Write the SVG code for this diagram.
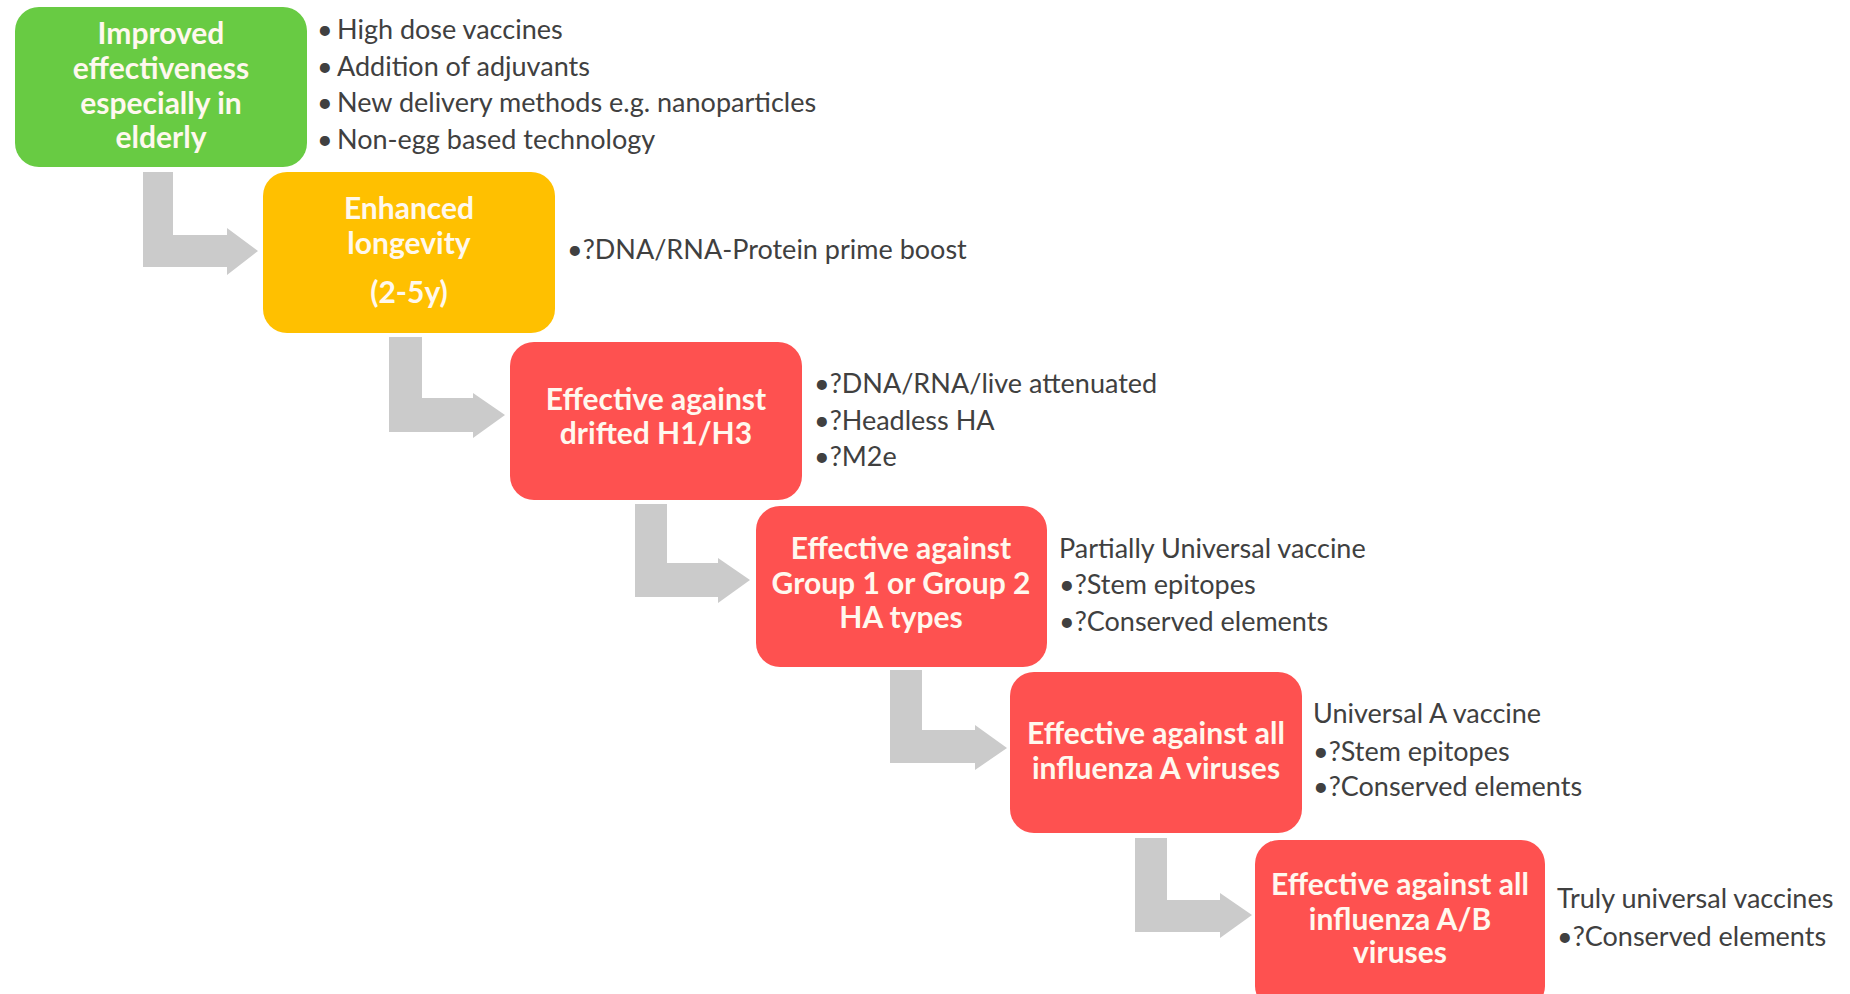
<svg xmlns="http://www.w3.org/2000/svg" width="1850" height="994" viewBox="0 0 1850 994">
  <style>
    .box { stroke: none; }
    .green { fill: #68cb43; }
    .amber { fill: #ffc000; }
    .red { fill: #fe5150; }
    .label { font-family: Lato, "Liberation Sans", sans-serif; font-weight: bold; font-size: 30px; fill: #fff8ee; text-anchor: middle; }
    .note { font-family: Lato, "Liberation Sans", sans-serif; font-size: 27px; fill: #404040; }
    .arrow { fill: #cbcbcb; }
  </style>
  <rect width="1850" height="994" fill="#ffffff"/>

  <!-- bent arrows between stages -->
  <g id="connectors">
    <path class="arrow" d="M143,172 H173 V235 H227 V228 L258,251 L227,275 V267 H143 Z"/>
    <path class="arrow" d="M389,337 H422 V398 H473 V393 L505,415 L473,438 V432 H389 Z"/>
    <path class="arrow" d="M635,504 H667 V563 H718 V558 L750,580 L718,603 V597 H635 Z"/>
    <path class="arrow" d="M890,670 H922 V730 H975 V725 L1007,748 L975,770 V763 H890 Z"/>
    <path class="arrow" d="M1135,838 H1167 V900 H1220 V893 L1252,915 L1220,938 V932 H1135 Z"/>
  </g>

  <g id="stage1">
    <rect class="box green" x="15" y="7" width="292" height="160" rx="24"/>
    <text class="label" x="161" y="44">Improved</text>
    <text class="label" x="161" y="79">effectiveness</text>
    <text class="label" x="161" y="114">especially in</text>
    <text class="label" x="161" y="148">elderly</text>
    <text class="note" x="317" y="39">•<tspan x="337">High dose vaccines</tspan></text>
    <text class="note" x="317" y="76">•<tspan x="337">Addition of adjuvants</tspan></text>
    <text class="note" x="317" y="112">•<tspan x="337">New delivery methods e.g. nanoparticles</tspan></text>
    <text class="note" x="317" y="149">•<tspan x="337">Non-egg based technology</tspan></text>
  </g>

  <g id="stage2">
    <rect class="box amber" x="263" y="172" width="292" height="161" rx="24"/>
    <text class="label" x="409" y="219">Enhanced</text>
    <text class="label" x="409" y="254">longevity</text>
    <text class="label" x="409" y="303">(2-5y)</text>
    <text class="note" x="567" y="259">•?DNA/RNA-Protein prime boost</text>
  </g>

  <g id="stage3">
    <rect class="box red" x="510" y="342" width="292" height="158" rx="24"/>
    <text class="label" x="656" y="410">Effective against</text>
    <text class="label" x="656" y="444">drifted H1/H3</text>
    <text class="note" x="814" y="393">•?DNA/RNA/live attenuated</text>
    <text class="note" x="814" y="430">•?Headless HA</text>
    <text class="note" x="814" y="466">•?M2e</text>
  </g>

  <g id="stage4">
    <rect class="box red" x="756" y="506" width="291" height="161" rx="24"/>
    <text class="label" x="901" y="559">Effective against</text>
    <text class="label" x="901" y="594">Group 1 or Group 2</text>
    <text class="label" x="901" y="628">HA types</text>
    <text class="note" x="1059" y="558">Partially Universal vaccine</text>
    <text class="note" x="1059" y="594">•?Stem epitopes</text>
    <text class="note" x="1059" y="631">•?Conserved elements</text>
  </g>

  <g id="stage5">
    <rect class="box red" x="1010" y="672" width="292" height="161" rx="24"/>
    <text class="label" x="1156" y="744">Effective against all</text>
    <text class="label" x="1156" y="779">influenza A viruses</text>
    <text class="note" x="1313" y="723">Universal A vaccine</text>
    <text class="note" x="1313" y="761">•?Stem epitopes</text>
    <text class="note" x="1313" y="796">•?Conserved elements</text>
  </g>

  <g id="stage6">
    <rect class="box red" x="1255" y="840" width="290" height="170" rx="24"/>
    <text class="label" x="1400" y="895">Effective against all</text>
    <text class="label" x="1400" y="930">influenza A/B</text>
    <text class="label" x="1400" y="963">viruses</text>
    <text class="note" x="1557" y="908">Truly universal vaccines</text>
    <text class="note" x="1557" y="946">•?Conserved elements</text>
  </g>
</svg>
